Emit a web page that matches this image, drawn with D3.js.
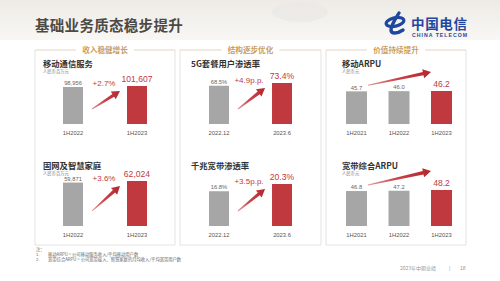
<!DOCTYPE html>
<html>
<head>
<meta charset="utf-8">
<script src="https://cdn.jsdelivr.net/npm/d3@7"></script>
<style>
body { margin: 0; background: #fff; }
svg { display: block; }
text { font-family: "Liberation Sans", Arial, sans-serif; }
.cjk { font-family: "Noto Sans CJK SC", sans-serif; }
</style>
</head>
<body>
<div id="area"></div>
<script>
// values
var mobileCats = ["1H2022", "1H2023"];
var mobileVals = [98956, 101607];
var homeCats = ["1H2022", "1H2023"];
var homeVals = [59871, 62024];
var penCats = ["2022.12", "2023.6"];
var fiveGVals = [68.5, 73.4];
var gigaVals = [16.8, 20.3];
var arpuCats = ["1H2021", "1H2022", "1H2023"];
var mobileArpu = [45.7, 46.0, 46.2];
var bbArpu = [46.8, 47.2, 48.2];
var deltas = ["+2.7%", "+3.6%", "+4.9p.p.", "+3.5p.p."];
var columnHeads = ["收入稳健增长", "结构逐步优化", "价值持续提升"];
var panelTitles = ["移动通信服务", "固网及智慧家庭", "5G套餐用户渗透率", "千兆宽带渗透率", "移动ARPU", "宽带综合ARPU"];
var units = ["人民币百万元", "人民币百万元", "", "", "人民币元", "人民币元"];
var notes = ["注：", "1.", "移动ARPU = 公司移动服务收入/平均移动用户数", "2.", "宽带综合ARPU = 公司宽带接入、智慧家庭的月均收入/平均宽带用户数"];

var W = 500, H = 281;
var RED = "#c0393f", GREY = "#a6a6a6";

var svg = d3.select("#area").append("svg")
    .attr("width", W).attr("height", H);

var defs = svg.append("defs");
var bg = defs.append("linearGradient").attr("id", "bg")
    .attr("x1", 0).attr("y1", 0).attr("x2", 0).attr("y2", 1);
bg.append("stop").attr("offset", "0%").attr("stop-color", "#eeebe6");
bg.append("stop").attr("offset", "100%").attr("stop-color", "#f8f7f4");
var ag = defs.append("linearGradient").attr("id", "arr")
    .attr("x1", 0).attr("y1", 0).attr("x2", 1).attr("y2", 0);
ag.append("stop").attr("offset", "0%").attr("stop-color", "#e29a9c");
ag.append("stop").attr("offset", "45%").attr("stop-color", "#c9444a");
ag.append("stop").attr("offset", "100%").attr("stop-color", "#b3262d");

svg.append("rect").attr("width", W).attr("height", H).attr("fill", "#fff");
svg.append("rect").attr("width", W).attr("height", 40).attr("fill", "url(#bg)");
svg.append("ellipse").attr("cx", 300).attr("cy", 12).attr("rx", 28).attr("ry", 10)
    .attr("fill", "#e9e8e6").attr("opacity", 0.7);

// slide title
svg.append("text").attr("class", "cjk")
    .attr("x", 35).attr("y", 31)
    .attr("font-size", 14.5).attr("font-weight", "bold")
    .attr("fill", "#4d4a45").attr("letter-spacing", 0.3)
    .text("基础业务质态稳步提升");

// logo
var logo = svg.append("g").attr("fill", "#1f47a0");
logo.append("ellipse").attr("cx", 395).attr("cy", 22).attr("rx", 9).attr("ry", 4.2)
    .attr("fill", "none").attr("stroke", "#1f47a0").attr("stroke-width", 3.2)
    .attr("transform", "rotate(-12 395 22)");
logo.append("path")
    .attr("d", "M399,13 C396,18 391,25 391,30 C391,34 397,34 403,30")
    .attr("fill", "none").attr("stroke", "#1f47a0").attr("stroke-width", 3.4)
    .attr("stroke-linecap", "round");
logo.append("text").attr("class", "cjk")
    .attr("x", 411).attr("y", 29).attr("font-size", 13.5).attr("font-weight", "bold")
    .attr("textLength", 56).text("中国电信");
logo.append("text")
    .attr("x", 412).attr("y", 36.5).attr("font-size", 5.2).attr("font-weight", "bold")
    .attr("textLength", 55).text("CHINA TELECOM");

// column boxes with headers sitting in a gap of the top border
var cols = [[35, 175], [180, 321], [326, 466]];
cols.forEach(function (c, i) {
    var mid = (c[0] + c[1]) / 2, gap = 29;
    svg.append("path")
        .attr("d", "M" + c[0] + ",50V245H" + c[1] + "V50")
        .attr("fill", "none").attr("stroke", "#dcdcdc").attr("stroke-width", 0.8);
    svg.append("path")
        .attr("d", "M" + c[0] + ",50H" + (mid - gap) + "M" + (mid + gap) + ",50H" + c[1])
        .attr("fill", "none").attr("stroke", "#d9ccb2").attr("stroke-width", 0.8);
    svg.append("text").attr("class", "cjk")
        .attr("x", mid).attr("y", 52.8).attr("text-anchor", "middle")
        .attr("font-size", 7.6).attr("font-weight", "bold").attr("fill", "#c9a063")
        .text(columnHeads[i]);
});

var fmtNum = d3.format(",");
var fmtPct = function (v) { return d3.format(".1f")(v) + "%"; };
var fmtOne = d3.format(".1f");

var panels = [
    { cats: mobileCats, vals: mobileVals, fmt: fmtNum, r: [31, 179], pi: 0.6875, base: 124, h: 38, tx: 43, delta: deltas[0] },
    { cats: homeCats, vals: homeVals, fmt: fmtNum, r: [31, 179], pi: 0.6875, base: 226, h: 45, tx: 43, delta: deltas[1] },
    { cats: penCats, vals: fiveGVals, fmt: fmtPct, r: [177.5, 323.5], pi: 0.683, base: 124, h: 41, tx: 191, delta: deltas[2] },
    { cats: penCats, vals: gigaVals, fmt: fmtPct, r: [177.5, 323.5], pi: 0.683, base: 226, h: 42, tx: 191, delta: deltas[3] },
    { cats: arpuCats, vals: mobileArpu, fmt: fmtOne, r: [324.75, 473.25], pi: 0.506, base: 124, h: 33, tx: 342 },
    { cats: arpuCats, vals: bbArpu, fmt: fmtOne, r: [324.75, 473.25], pi: 0.506, base: 226, h: 36, tx: 342 }
];

function arrowPath(x1, y1, x2, y2) {
    var dx = x2 - x1, dy = y2 - y1, len = Math.sqrt(dx * dx + dy * dy);
    var ux = dx / len, uy = dy / len, nx = -uy, ny = ux;
    var hl = 8, hw = 4.6, w0 = 0.5, w1 = 1.7;
    var bx = x2 - ux * hl, by = y2 - uy * hl;
    var p = [
        [x1 + nx * w0, y1 + ny * w0],
        [bx + nx * w1, by + ny * w1],
        [bx + nx * hw, by + ny * hw],
        [x2, y2],
        [bx - nx * hw, by - ny * hw],
        [bx - nx * w1, by - ny * w1],
        [x1 - nx * w0, y1 - ny * w0]
    ];
    return "M" + p.map(function (d) { return d.join(","); }).join("L") + "Z";
}

panels.forEach(function (p, i) {
    var g = svg.append("g");
    var last = p.cats.length - 1;
    var x = d3.scaleBand().domain(p.cats).range(p.r).paddingInner(p.pi).paddingOuter(0.5);
    var y = d3.scaleLinear().domain([0, d3.max(p.vals)]).range([p.base, p.base - p.h]);
    var top = p.base - 124 + 67;

    g.append("text").attr("class", "cjk")
        .attr("x", p.tx).attr("y", top)
        .attr("font-size", 8.3).attr("font-weight", "bold").attr("fill", "#333")
        .text(panelTitles[i]);
    if (units[i]) {
        g.append("text").attr("class", "cjk")
            .attr("x", p.tx).attr("y", top + 5.5)
            .attr("font-size", 4.3).attr("fill", "#777")
            .text(units[i]);
    }

    g.selectAll("rect.bar").data(p.vals).enter().append("rect")
        .attr("class", "bar")
        .attr("x", function (d, j) { return x(p.cats[j]); })
        .attr("y", function (d) { return y(d); })
        .attr("width", x.bandwidth())
        .attr("height", function (d) { return p.base - y(d); })
        .attr("fill", function (d, j) { return j === last ? RED : GREY; });

    g.selectAll("text.val").data(p.vals).enter().append("text")
        .attr("class", "val")
        .attr("x", function (d, j) { return x(p.cats[j]) + x.bandwidth() / 2; })
        .attr("y", function (d, j) { return y(d) - (j === last ? 4.5 : 1.8); })
        .attr("text-anchor", "middle")
        .attr("font-size", function (d, j) { return j === last ? 8.6 : 5.8; })
        .attr("fill", function (d, j) { return j === last ? RED : "#666"; })
        .text(function (d) { return p.fmt(d); });

    g.selectAll("text.cat").data(p.cats).enter().append("text")
        .attr("class", "cat")
        .attr("x", function (d) { return x(d) + x.bandwidth() / 2; })
        .attr("y", p.base + 10.5)
        .attr("text-anchor", "middle")
        .attr("font-size", 5.8).attr("fill", "#555")
        .text(function (d) { return d; });

    var sx, sy, ex, ey;
    if (p.cats.length === 2) {
        sx = x(p.cats[0]) + x.bandwidth() + 9;
        sy = p.base - 15;
        ex = x(p.cats[1]) - 7;
        ey = y(p.vals[1]) + 5;
    } else {
        sx = x(p.cats[0]) + x.bandwidth() + 1;
        sy = y(p.vals[0]) - 6;
        ex = x(p.cats[last]);
        ey = y(p.vals[last]) - 19;
    }
    g.append("path").attr("d", arrowPath(sx, sy, ex, ey)).attr("fill", "url(#arr)");

    if (p.delta) {
        g.append("text")
            .attr("x", ex - 16).attr("y", ey - 5)
            .attr("text-anchor", "middle")
            .attr("font-size", 8).attr("fill", RED)
            .text(p.delta);
    }
});

// footnotes
var fn = svg.append("g").attr("font-size", 4.3).attr("fill", "#666");
fn.append("text").attr("class", "cjk").attr("x", 36).attr("y", 250.5).text(notes[0]);
fn.append("text").attr("x", 36).attr("y", 255.5).text(notes[1]);
fn.append("text").attr("class", "cjk").attr("x", 48).attr("y", 255.5).text(notes[2]);
fn.append("text").attr("x", 36).attr("y", 260.5).text(notes[3]);
fn.append("text").attr("class", "cjk").attr("x", 48).attr("y", 260.5).text(notes[4]);

// page footer
svg.append("text").attr("class", "cjk")
    .attr("x", 400).attr("y", 270).attr("font-size", 5).attr("fill", "#999")
    .text("2023年中期业绩");
svg.append("text")
    .attr("x", 449).attr("y", 270).attr("font-size", 5).attr("fill", "#aaa")
    .text("|");
svg.append("text")
    .attr("x", 460).attr("y", 270).attr("font-size", 5).attr("fill", "#999")
    .text("18");
</script>
</body>
</html>
